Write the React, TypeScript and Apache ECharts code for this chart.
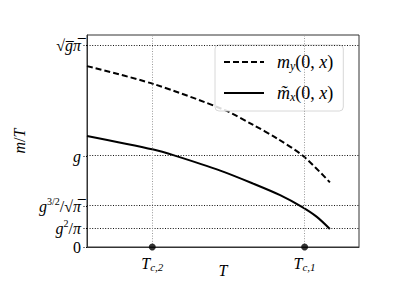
import React, { useEffect, useRef } from "react";
import * as echarts from "echarts";

// coupling g (tick positions derive from it)
const g = 2 / Math.PI;

// y tick values and labels
const yTickValues = [
  0,
  (g * g) / Math.PI,
  Math.pow(g, 1.5) / Math.sqrt(Math.PI),
  g,
  Math.sqrt(g * Math.PI),
];
const yTickLabels = [
  "{n|0}",
  "{i|g}{sup|2}{n|/}{i|π}",
  "{i|g}{sup|3/2}{n|/√}{i|π̅}",
  "{i|g}",
  "{n|√}{i|g̅π̅}",
];

// x ticks (critical temperatures)
const xTickValues = [0.24, 0.8];
const xTickLabels = ["{i|T}{sub|c,2}", "{i|T}{sub|c,1}"];

// dashed curve m_y(0,x)
const myT = [0, 0.244, 0.505, 0.611, 0.699, 0.795, 0.893];
const myVals = [1.267, 1.142, 0.96, 0.855, 0.76, 0.637, 0.453];

// solid curve m~_x(0,x)
const mxT = [0, 0.244, 0.323, 0.49, 0.611, 0.71, 0.79, 0.845, 0.893];
const mxVals = [0.778, 0.683, 0.64, 0.535, 0.444, 0.363, 0.281, 0.211, 0.126];

const legendNames = ["my", "mx"];
const legendLabels = [
  "{li|m}{lsub|y}{ln|(0, }{li|x}{ln|)}",
  "{li|m̃}{lsub|x}{ln|(0, }{li|x}{ln|)}",
];

const FONT = "Liberation Serif";
const rich = {
  i: { fontFamily: FONT, fontStyle: "italic", fontSize: 16, color: "#000" },
  n: { fontFamily: FONT, fontSize: 16, color: "#000" },
  sup: { fontFamily: FONT, fontSize: 10, color: "#000", padding: [0, 0, 10, 0] },
  sub: { fontFamily: FONT, fontStyle: "italic", fontSize: 11, color: "#000", padding: [7, 0, 0, 0] },
  li: { fontFamily: FONT, fontStyle: "italic", fontSize: 18, color: "#000" },
  ln: { fontFamily: FONT, fontSize: 18, color: "#000" },
  lsub: { fontFamily: FONT, fontStyle: "italic", fontSize: 12, color: "#000", padding: [8, 0, 0, 0] },
};

export default function App() {
  const ref = useRef<HTMLDivElement>(null);
  useEffect(() => {
    if (!ref.current) return;
    const chart = echarts.init(ref.current, undefined, { renderer: "svg" });
    const yMax = 1.05 * Math.sqrt(g * Math.PI);
    chart.setOption({
      animation: false,
      backgroundColor: "#fff",
      grid: {
        left: 87,
        right: 40,
        top: 35,
        bottom: 52,
        show: true,
        borderColor: "#333",
        borderWidth: 1,
      },
      legend: {
        orient: "vertical",
        left: 215,
        top: 45,
        data: legendNames,
        itemWidth: 40,
        itemHeight: 16,
        itemGap: 12,
        padding: [8, 10, 8, 8],
        backgroundColor: "rgba(255,255,255,0.85)",
        borderColor: "#d8d8d8",
        borderWidth: 1,
        borderRadius: 4,
        itemStyle: { opacity: 0 },
        formatter: (name: string) => legendLabels[legendNames.indexOf(name)],
        textStyle: { rich, padding: [0, 0, 0, 8] },
      },
      xAxis: {
        type: "value",
        min: 0,
        max: 1,
        name: "T",
        nameLocation: "middle",
        nameGap: 15,
        nameMoveOverlap: false,
        nameTextStyle: { fontFamily: FONT, fontStyle: "italic", fontSize: 16, color: "#000" },
        axisLine: { show: true, lineStyle: { color: "#333", width: 1 } },
        axisTick: { show: false },
        splitLine: { show: false },
        axisLabel: {
          customValues: xTickValues,
          margin: 7,
          formatter: (v: number) => {
            const k = xTickValues.findIndex((t) => Math.abs(t - v) < 1e-6);
            return k >= 0 ? xTickLabels[k] : "";
          },
          rich,
        },
      },
      yAxis: {
        type: "value",
        min: 0,
        max: yMax,
        name: "{i|m}{n|/}{i|T}",
        nameLocation: "middle",
        nameGap: 60,
        nameMoveOverlap: false,
        nameTextStyle: { rich },
        axisLine: { show: true, lineStyle: { color: "#333", width: 1 } },
        axisTick: {
          show: true,
          customValues: yTickValues,
          length: 4,
          lineStyle: { color: "#000", type: [1, 1.5] },
        },
        splitLine: { show: false },
        axisLabel: {
          customValues: yTickValues,
          margin: 6,
          formatter: (v: number) => {
            const k = yTickValues.findIndex((t) => Math.abs(t - v) < 1e-6);
            return k >= 0 ? yTickLabels[k] : "";
          },
          rich,
        },
      },
      series: [
        {
          type: "line",
          name: "guides",
          data: [],
          z: 1,
          silent: true,
          markLine: {
            silent: true,
            symbol: "none",
            label: { show: false },
            animation: false,
            data: [
              ...yTickValues.slice(1).map((v) => ({
                yAxis: v,
                lineStyle: { color: "#111", width: 1, type: [1, 1.6] },
              })),
              ...xTickValues.map((v) => ({
                xAxis: v,
                lineStyle: { color: "#9a9a9a", width: 1, type: [1, 1.6] },
              })),
            ],
          },
        },
        {
          type: "line",
          name: "my",
          data: myT.map((t, i) => [t, myVals[i]]),
          smooth: 0.3,
          symbol: "none",
          showSymbol: false,
          z: 3,
          lineStyle: { color: "#000", width: 2, type: [6, 3] },
          itemStyle: { color: "#000" },
        },
        {
          type: "line",
          name: "mx",
          data: mxT.map((t, i) => [t, mxVals[i]]),
          smooth: 0.3,
          symbol: "none",
          showSymbol: false,
          z: 3,
          lineStyle: { color: "#000", width: 2, type: "solid" },
          itemStyle: { color: "#000" },
        },
        {
          type: "scatter",
          name: "Tc",
          data: xTickValues.map((t) => [t, 0]),
          symbol: "circle",
          symbolSize: 7,
          clip: false,
          z: 5,
          itemStyle: { color: "#000" },
        },
      ],
    });
    return () => chart.dispose();
  }, []);
  return (
    <div
      ref={ref}
      style={{ position: "absolute", left: 0, top: 0, width: 399, height: 299 }}
    />
  );
}
